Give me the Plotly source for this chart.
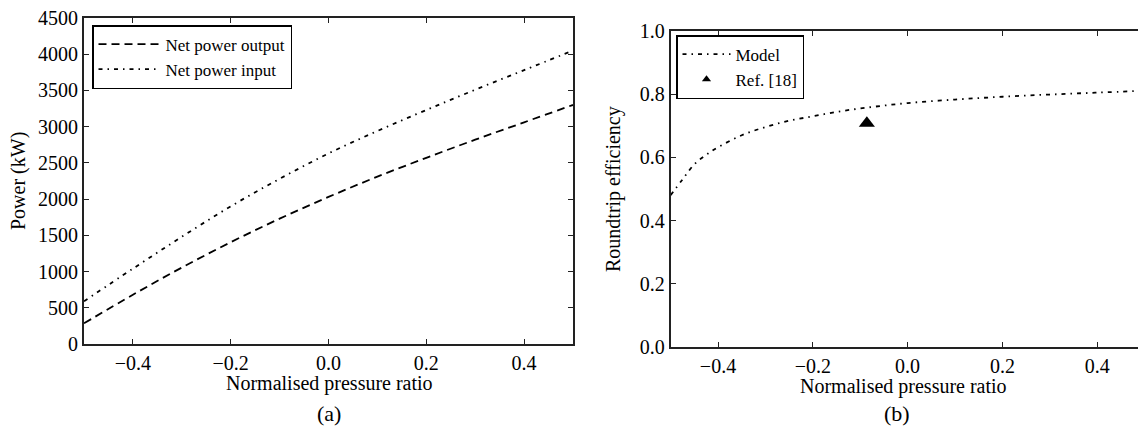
import plotly.graph_objects as go

W, H = 1138, 439

# ---- data ----
pr = [-0.5, -0.4, -0.3, -0.2, -0.1, 0.0, 0.1, 0.2, 0.3, 0.4, 0.5]
net_power_output = [285, 680, 1055, 1405, 1730, 2030, 2310, 2570, 2820, 3060, 3300]
net_power_input = [590, 1040, 1480, 1900, 2280, 2630, 2940, 3230, 3510, 3780, 4050]

pr_model = [-0.5, -0.475, -0.45, -0.425, -0.4, -0.35, -0.3, -0.25, -0.2, -0.15,
            -0.1, -0.05, 0.0, 0.1, 0.2, 0.3, 0.4, 0.5]
eff_model = [0.48, 0.53, 0.578, 0.608, 0.632, 0.670, 0.696, 0.716, 0.730, 0.744,
             0.755, 0.764, 0.772, 0.783, 0.792, 0.799, 0.805, 0.811]

ref_x = [-0.086]
ref_eff = [0.708]

x_tickvals = [-0.4, -0.2, 0.0, 0.2, 0.4]
x_ticktext = ["\u22120.4", "\u22120.2", "0.0", "0.2", "0.4"]
p_tickvals = [0, 500, 1000, 1500, 2000, 2500, 3000, 3500, 4000, 4500]
e_tickvals = [0.0, 0.2, 0.4, 0.6, 0.8, 1.0]
e_ticktext = ["0.0", "0.2", "0.4", "0.6", "0.8", "1.0"]

FONT = "'Liberation Serif', 'Times New Roman', Times, serif"
DASHDOT = "4px,5px,1.5px,5px"
TICK_SIZE = 20
TITLE_SIZE = 20
LEG_SIZE = 17

fig = go.Figure()

fig.add_trace(go.Scatter(x=pr, y=net_power_output, mode="lines", name="Net power output",
                         line=dict(color="black", width=1.8, dash="8px,5px", shape="spline"),
                         xaxis="x", yaxis="y", legend="legend"))
fig.add_trace(go.Scatter(x=pr, y=net_power_input, mode="lines", name="Net power input",
                         line=dict(color="black", width=1.8, dash=DASHDOT, shape="spline"),
                         xaxis="x", yaxis="y", legend="legend"))

fig.add_trace(go.Scatter(x=pr_model, y=eff_model, mode="lines", name="Model",
                         line=dict(color="black", width=1.8, dash=DASHDOT, shape="spline"),
                         xaxis="x2", yaxis="y2", legend="legend2"))
fig.add_trace(go.Scatter(x=ref_x, y=ref_eff, mode="markers", name="Ref. [18]",
                         marker=dict(symbol="triangle-up", size=14, color="black"),
                         xaxis="x2", yaxis="y2", showlegend=False))
# legend proxy with smaller marker
fig.add_trace(go.Scatter(x=[None], y=[None], mode="markers", name="Ref. [18]",
                         marker=dict(symbol="triangle-up", size=8, color="black"),
                         xaxis="x2", yaxis="y2", legend="legend2"))

axis_common = dict(showline=True, linecolor="#222", linewidth=1.8, ticks="inside",
                   ticklen=5, tickwidth=1, tickcolor="#222", showgrid=False,
                   zeroline=False, automargin=False,
                   tickfont=dict(family=FONT, size=TICK_SIZE, color="black"))

fig.update_layout(
    width=W, height=H,
    margin=dict(l=0, r=0, t=0, b=0),
    paper_bgcolor="white", plot_bgcolor="white",
    font=dict(family=FONT, color="black"),
    xaxis=dict(domain=[84 / W, 573 / W], range=[-0.5, 0.5], tickvals=x_tickvals,
               ticktext=x_ticktext, mirror="ticks", anchor="y", **axis_common),
    yaxis=dict(domain=[(H - 344) / H, (H - 18) / H], range=[0, 4500], tickvals=p_tickvals,
               mirror="ticks", anchor="x", **axis_common),
    xaxis2=dict(domain=[670.6 / W, 1.0], range=[-0.5, 0.486], tickvals=x_tickvals,
                ticktext=x_ticktext, mirror="ticks", anchor="y2", **axis_common),
    yaxis2=dict(domain=[(H - 347) / H, (H - 31) / H], range=[0, 1.0], tickvals=e_tickvals,
                ticktext=e_ticktext, mirror=False, anchor="x2", **axis_common),
    legend=dict(x=92 / W, y=(H - 25) / H, xanchor="left", yanchor="top",
                bordercolor="black", borderwidth=1.5, bgcolor="white", itemwidth=62,
                font=dict(family=FONT, size=LEG_SIZE, color="black")),
    legend2=dict(x=676 / W, y=(H - 35) / H, xanchor="left", yanchor="top",
                 bordercolor="black", borderwidth=1.5, bgcolor="white", itemwidth=48,
                 font=dict(family=FONT, size=LEG_SIZE, color="black")),
    annotations=[
        dict(text="Normalised pressure ratio", x=329 / W, y=(H - 383) / H, xref="paper",
             yref="paper", showarrow=False, xanchor="center", yanchor="middle",
             font=dict(family=FONT, size=TITLE_SIZE)),
        dict(text="Normalised pressure ratio", x=903 / W, y=(H - 386) / H, xref="paper",
             yref="paper", showarrow=False, xanchor="center", yanchor="middle",
             font=dict(family=FONT, size=TITLE_SIZE)),
        dict(text="Power (kW)", x=18 / W, y=(H - 181) / H, xref="paper", yref="paper",
             showarrow=False, textangle=-90, xanchor="center", yanchor="middle",
             font=dict(family=FONT, size=TITLE_SIZE)),
        dict(text="Roundtrip efficiency", x=613 / W, y=(H - 189) / H, xref="paper",
             yref="paper", showarrow=False, textangle=-90, xanchor="center",
             yanchor="middle", font=dict(family=FONT, size=TITLE_SIZE)),
        dict(text="(a)", x=329 / W, y=(H - 413) / H, xref="paper", yref="paper",
             showarrow=False, xanchor="center", yanchor="middle",
             font=dict(family=FONT, size=22)),
        dict(text="(b)", x=897 / W, y=(H - 413) / H, xref="paper", yref="paper",
             showarrow=False, xanchor="center", yanchor="middle",
             font=dict(family=FONT, size=22)),
    ],
)

fig.write_html("out.html")
